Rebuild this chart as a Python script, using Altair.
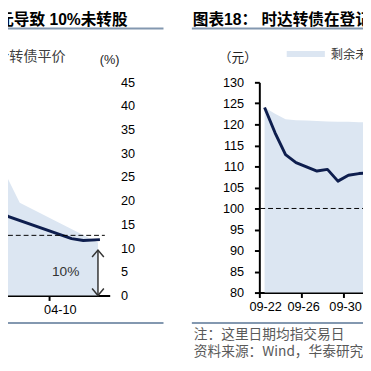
import altair as alt
import pandas as pd

# ---------------- data: left panel (right-hand % axis, visible slice) ----------------
left_line_x = [0, 0.3, 0.8, 7.3, 8.5, 10.2]
left_line_y = [18.4, 17.6, 16.7, 12.0, 11.6, 11.8]
left_area_x = [0, 2, 10]
left_area_y = [27.9, 19.6, 11.2]
left_dash = {"x": 0, "x2": 10.7, "y": 12.7}
left_arrow = {"x": 10, "y0": 0, "y1": 9.6}
left_note = {"x": 6.7, "y": 5, "text": "10%"}
left_tick_values = [5]
left_tick_labels = ["04-10"]
left_y_values = [0, 5, 10, 15, 20, 25, 30, 35, 40, 45]

# ---------------- data: right panel ----------------
right_days = list(range(11))
right_price = [124.0, 118.0, 112.8, 110.9, 109.9, 108.9, 109.3, 106.5, 107.9, 108.3, 108.5]
right_remain = [124.0, 122.5, 121.2, 121.0, 120.9, 120.8, 120.7, 120.6, 120.6, 120.5, 120.5]
right_base = 80
right_par = 100
right_tick_values = [-0.5, 3.5, 7.5]
right_tick_labels = ["09-22", "09-26", "09-30"]
right_y_values = [80, 85, 90, 95, 100, 105, 110, 115, 120, 125, 130]

# ---------------- texts ----------------
left_title = "元导致 10%未转股"
left_legend = "合转债平价"
left_unit = "(%)"
right_title = "图表18：  时达转债在登记日"
right_unit = "（元）"
right_legend = "剩余未转股"
note1 = "注：这里日期均指交易日"
note2 = "资料来源：Wind，华泰研究"

AREA = "#dce6f2"
LINE = "#0e1e4e"
RULEC = "#8398b0"
NUM_FONT = "Liberation Sans"
CJK_FONT = "Noto Sans CJK SC"

L_W, L_H = 112, 218
R_W, R_H = 150, 215
GAP = 153  # horizontal gap between the two plot areas


def label_expr(values, labels):
    expr = "''"
    for v, l in zip(reversed(values), reversed(labels)):
        expr = f"datum.value == {v} ? '{l}' : ({expr})"
    return expr


one = pd.DataFrame({"k": [0]})


def txt(s, x, y, size, **kw):
    return alt.Chart(one).mark_text(text=s, fontSize=size, baseline="middle", **kw).encode(
        x=alt.value(x), y=alt.value(y))


def hrule(x, x2, y, color=RULEC, width=2):
    return alt.Chart(one).mark_rule(color=color, strokeWidth=width).encode(
        x=alt.value(x), x2=alt.value(x2), y=alt.value(y))


# ---------------- left panel ----------------
lx_scale = alt.Scale(domain=[0, 11.2], nice=False, zero=False)
lx_axis = alt.Axis(values=left_tick_values, labelExpr=label_expr(left_tick_values, left_tick_labels),
                   domainColor="black", domainWidth=2, tickColor="black", tickWidth=2, tickSize=5,
                   labelFont=NUM_FONT, labelFontSize=13, labelColor="black", labelOffset=11,
                   labelPadding=3, labelFlush=False, labelOverlap=False, grid=False, title=None)
ly_scale = alt.Scale(domain=[0, 45], nice=False, zero=True)
ly_axis = alt.Axis(orient="right", values=left_y_values, domain=False, ticks=False,
                   labelFont=NUM_FONT, labelFontSize=13, labelColor="black", labelPadding=11,
                   labelFlush=False, labelOverlap=False, grid=False, title=None)


def LX(f):
    return alt.X(f, type="quantitative", scale=lx_scale, axis=lx_axis)


def LY(f):
    return alt.Y(f, type="quantitative", scale=ly_scale, axis=ly_axis)


l_area = alt.Chart(pd.DataFrame({"x": left_area_x, "y": left_area_y})).mark_area(
    color=AREA, interpolate="linear").encode(x=LX("x"), y=LY("y"))
l_line = alt.Chart(pd.DataFrame({"x": left_line_x, "y": left_line_y})).mark_line(
    color=LINE, strokeWidth=3, strokeJoin="round").encode(x=LX("x"), y=LY("y"))
l_dash = alt.Chart(pd.DataFrame([left_dash])).mark_rule(
    color="black", strokeWidth=1, strokeDash=[5, 3]).encode(x=LX("x"), x2="x2:Q", y=LY("y"))
l_arrow = alt.Chart(pd.DataFrame([left_arrow])).mark_rule(color="#333", strokeWidth=1.5).encode(
    x=LX("x"), y=LY("y0"), y2="y1:Q")
l_head_up = alt.Chart(pd.DataFrame([{"x": left_arrow["x"], "y": left_arrow["y1"]}])).mark_point(
    shape="M-1,1.2L0,0L1,1.2", size=144, filled=False, color="#333", strokeWidth=1.5, opacity=1).encode(
    x=LX("x"), y=LY("y"))
l_head_dn = alt.Chart(pd.DataFrame([{"x": left_arrow["x"], "y": left_arrow["y0"]}])).mark_point(
    shape="M-1,-1.2L0,0L1,-1.2", size=144, filled=False, color="#333", strokeWidth=1.5, opacity=1).encode(
    x=LX("x"), y=LY("y"))
l_note = alt.Chart(pd.DataFrame([left_note])).mark_text(
    fontSize=14, font=NUM_FONT, color="#333").encode(x=LX("x"), y=LY("y"), text="text:N")

left = alt.layer(
    l_area, l_line, l_dash, l_arrow, l_head_up, l_head_dn, l_note,
    txt(left_title, -2, -64, 16, font=f"{NUM_FONT}, {CJK_FONT}", fontWeight="bold", align="left", color="black"),
    hrule(-2, 167, -55),
    txt(left_legend, -5, -26, 14.4, font=CJK_FONT, align="left", color="#404040"),
    txt(left_unit, 112, -23, 13, font=NUM_FONT, align="center", color="#222"),
    hrule(-2, 167, 246),
).properties(width=L_W, height=L_H)

# ---------------- right panel ----------------
rx_scale = alt.Scale(domain=[-0.5, 13.5], nice=False, zero=False)
rx_axis = alt.Axis(values=right_tick_values, labelExpr=label_expr(right_tick_values, right_tick_labels),
                   domainColor="black", domainWidth=2, tickColor="black", tickWidth=2, tickSize=5,
                   labelFont=NUM_FONT, labelFontSize=13, labelColor="black",
                   labelOffset={"condition": {"test": "datum.value < 0", "value": 6}, "value": 2},
                   labelPadding=3, labelFlush=False, labelOverlap=False, grid=False, title=None)
ry_scale = alt.Scale(domain=[80, 130], nice=False, zero=False)
ry_axis = alt.Axis(values=right_y_values, domainColor="black", domainWidth=2, tickColor="black",
                   tickWidth=2, tickSize=5, labelFont=NUM_FONT, labelFontSize=13, labelColor="black",
                   labelPadding=11, labelFlush=False, labelOverlap=False, grid=False, title=None)


def RX(f):
    return alt.X(f, type="quantitative", scale=rx_scale, axis=rx_axis)


def RY(f):
    return alt.Y(f, type="quantitative", scale=ry_scale, axis=ry_axis)


rdf = pd.DataFrame({"d": right_days, "v": right_price, "r": right_remain, "b": [right_base] * len(right_days)})
r_area = alt.Chart(rdf).mark_area(color=AREA).encode(x=RX("d"), y=RY("r"), y2="b:Q")
r_par = alt.Chart(pd.DataFrame({"p": [right_par]})).mark_rule(
    color="black", strokeWidth=1, strokeDash=[5, 3]).encode(y=RY("p"))
r_line = alt.Chart(rdf).mark_line(color=LINE, strokeWidth=3, strokeJoin="round").encode(x=RX("d"), y=RY("v"))

right = alt.layer(
    r_area, r_par, r_line,
    txt(right_title, -68, -64, 16, font=f"{NUM_FONT}, {CJK_FONT}", fontWeight="bold", align="left", color="black"),
    hrule(-69, R_W, -55),
    txt(right_unit, -22, -25, 13, font=CJK_FONT, align="center", color="#222"),
    hrule(28, 67, -29, color=AREA, width=6),
    txt(right_legend, 73, -28, 12.5, font=CJK_FONT, align="left", color="#404040"),
    txt(note1, -67, 258, 14, font=CJK_FONT, align="left", color="#595959"),
    txt(note2, -67, 276, 14, font=CJK_FONT, align="left", color="#595959"),
    hrule(-69, R_W, 246),
).properties(width=R_W, height=R_H)

# Fixed page geometry: left plot origin at page (0, 80); SVG spans 363 x 355 px.
chart = alt.hconcat(left, right, spacing=GAP, bounds="flush").properties(
    autosize=alt.AutoSizeParams(type="none"),
    padding={"left": -8, "top": 72, "right": 371, "bottom": 283},
).configure_view(stroke=None)

chart.save("out.html", embed_options={"renderer": "svg", "actions": False})
